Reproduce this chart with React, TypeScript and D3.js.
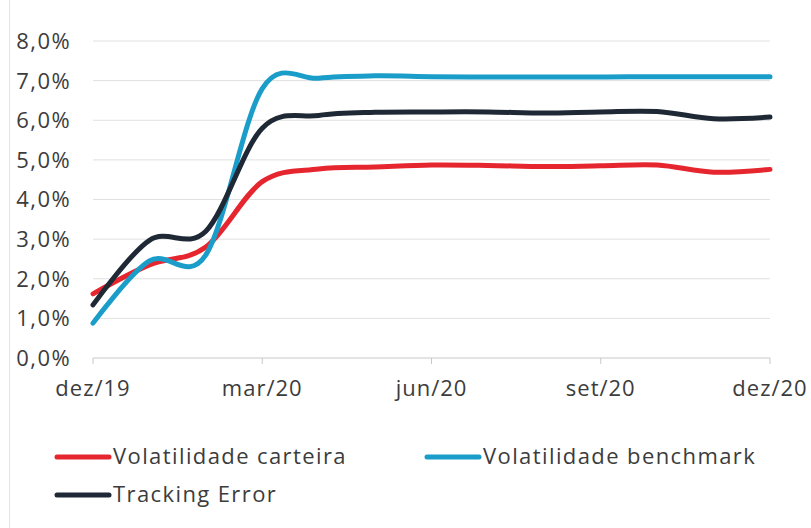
import React from "react";
import * as d3 from "d3";

// monthly observations, dez/19 .. dez/20
const months = [
  "dez/19", "jan/20", "fev/20", "mar/20", "abr/20", "mai/20", "jun/20",
  "jul/20", "ago/20", "set/20", "out/20", "nov/20", "dez/20",
];
const tickLabels = ["dez/19", "mar/20", "jun/20", "set/20", "dez/20"];
const yTicks = [0, 1, 2, 3, 4, 5, 6, 7, 8];

const carteira = [1.62, 2.35, 2.8, 4.45, 4.77, 4.82, 4.87, 4.86, 4.83, 4.85, 4.87, 4.69, 4.76];
const benchmark = [0.88, 2.45, 2.6, 6.8, 7.06, 7.12, 7.1, 7.09, 7.09, 7.09, 7.1, 7.1, 7.1];
const tracking = [1.34, 2.97, 3.2, 5.8, 6.12, 6.2, 6.21, 6.21, 6.18, 6.21, 6.22, 6.04, 6.08];

const series = [
  { name: "Volatilidade carteira", values: carteira, color: "#e6262f" },
  { name: "Volatilidade benchmark", values: benchmark, color: "#1b9dc9" },
  { name: "Tracking Error", values: tracking, color: "#1f2935" },
];

const W = 811;
const H = 528;
const margin = { top: 41, right: 41, bottom: 170, left: 93 };
const font = "'Open Sans', sans-serif";
const fontSize = 22;
const spacing = 1.4;

export default function App() {
  const x = d3
    .scalePoint()
    .domain(months)
    .range([margin.left, W - margin.right]);

  const y = d3
    .scaleLinear()
    .domain([0, 8])
    .range([H - margin.bottom, margin.top]);

  const line = d3
    .line<number>()
    .x((_, i) => x(months[i]) as number)
    .y((d) => y(d))
    .curve(d3.curveCatmullRom.alpha(0));

  const fmt = (v: number) => v.toFixed(1).replace(".", ",") + "%";

  return (
    <div style={{ position: "absolute", left: 0, top: 0 }}>
      <svg width={W} height={H} style={{ display: "block", background: "#fff" }}>
        {/* scan border on the left */}
        <line x1={9.5} x2={9.5} y1={0} y2={H} stroke="#e4e4e4" />
        {/* gridlines */}
        {yTicks.map((t) => (
          <line
            key={t}
            x1={margin.left}
            x2={W - margin.right}
            y1={y(t)}
            y2={y(t)}
            stroke={t === 0 ? "#c8c8c8" : "#e0e0e0"}
            strokeWidth={1}
          />
        ))}
        {/* y labels */}
        {yTicks.map((t) => (
          <text
            key={"l" + t}
            x={71}
            y={y(t)}
            dy="0.36em"
            textAnchor="end"
            fontFamily={font}
            fontSize={fontSize}
            letterSpacing={spacing}
            fill="#3c3c3c"
          >
            {fmt(t)}
          </text>
        ))}
        {/* x ticks and labels */}
        {tickLabels.map((m) => (
          <g key={m} transform={`translate(${x(m)},${y(0)})`}>
            <line y1={0} y2={6} stroke="#c8c8c8" />
            <text
              y={38}
              textAnchor="middle"
              fontFamily={font}
              fontSize={fontSize}
              letterSpacing={1}
              fill="#3c3c3c"
            >
              {m}
            </text>
          </g>
        ))}
        {/* lines */}
        {series.map((s) => (
          <path
            key={s.name}
            d={line(s.values) ?? ""}
            fill="none"
            stroke={s.color}
            strokeWidth={5}
            strokeLinecap="round"
            strokeLinejoin="round"
          />
        ))}
        {/* legend */}
        {series.map((s, i) => {
          const lx = i === 1 ? 427 : 57;
          const ly = i === 2 ? 495 : 457;
          return (
            <g key={"lg" + s.name} transform={`translate(${lx},${ly})`}>
              <line x1={0} x2={52} stroke={s.color} strokeWidth={5} strokeLinecap="round" />
              <text
                x={56}
                y={7}
                fontFamily={font}
                fontSize={fontSize}
                letterSpacing={spacing}
                fill="#3c3c3c"
              >
                {s.name}
              </text>
            </g>
          );
        })}
      </svg>
    </div>
  );
}
